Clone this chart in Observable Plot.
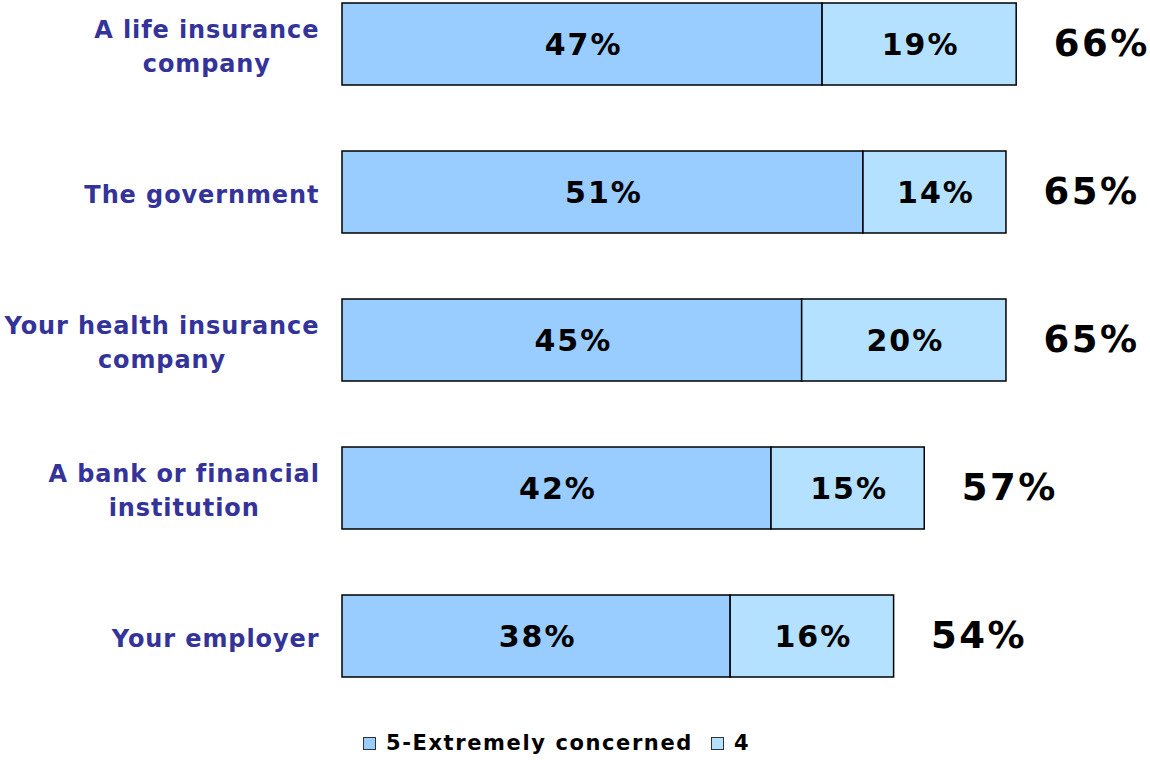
<!DOCTYPE html>
<html>
<head>
<meta charset="utf-8">
<script src="https://cdn.jsdelivr.net/npm/d3@7"></script>
<script src="https://cdn.jsdelivr.net/npm/@observablehq/plot@0.6"></script>
<style>
  html, body { margin: 0; padding: 0; background: #fff; }
  #wrap { position: relative; width: 1150px; height: 760px; }
  #legend { position: absolute; top: 732px; left: 363px; height: 22px; display: flex; align-items: center;
    font-family: "DejaVu Sans", Verdana, sans-serif; font-weight: bold; font-size: 21px; letter-spacing: 1.6px; color: #000; }
  .sw { width: 11px; height: 11px; border: 1.5px solid #333; display: inline-block; margin-right: 10px; }
  .item { display: flex; align-items: center; }
</style>
</head>
<body>
<div id="wrap">
  <div id="chart"></div>
  <div id="legend"></div>
</div>
<script>
const categories = ["A life insurance company", "The government", "Your health insurance company", "A bank or financial institution", "Your employer"];
const categoryLines = [["A life insurance", "company"], ["The government"], ["Your health insurance", "company"], ["A bank or financial", "institution"], ["Your employer"]];
const extremelyConcerned = [47, 51, 45, 42, 38];
const fourRating = [19, 14, 20, 15, 16];
const totals = [66, 65, 65, 57, 54];
const seriesNames = ["5-Extremely concerned", "4"];
const seriesColors = ["#99CCFF", "#B3E1FF"];

const rows = [];
categories.forEach((c, i) => {
  rows.push({category: c, series: seriesNames[0], value: extremelyConcerned[i]});
  rows.push({category: c, series: seriesNames[1], value: fourRating[i]});
});
const totalRows = categories.map((c, i) => ({category: c, total: totals[i]}));

// measure label widths so each multi-line label is centered and right-aligned as a block
const catLS = 0.9;
const ctx = document.createElement("canvas").getContext("2d");
ctx.font = "bold 24px 'DejaVu Sans'";
const measure = s => ctx.measureText(s).width + catLS * (s.length - 1);

const labelMarks = categories.map((c, i) => {
  const w = Math.max(...categoryLines[i].map(measure));
  return Plot.text([c], {
    y: d => d,
    frameAnchor: "left",
    text: () => categoryLines[i].join("\n"),
    textAnchor: "middle",
    dx: -(24 + w / 2) + catLS / 2,
    lineHeight: 1.42,
    fontSize: 24,
    fontWeight: "bold",
    fontFamily: "DejaVu Sans",
    fill: "#333399",
    ariaLabel: () => "category-label"
  });
});

const chart = Plot.plot({
  width: 1150,
  height: 678,
  marginLeft: 342,
  marginRight: 0,
  marginTop: 2,
  marginBottom: 1,
  x: {domain: [0, 79.1], axis: null},
  y: {domain: categories, axis: null, paddingInner: 0.447, paddingOuter: 0},
  color: {domain: seriesNames, range: seriesColors},
  style: {fontFamily: "'DejaVu Sans', sans-serif", background: "#fff"},
  marks: [
    Plot.barX(rows, Plot.stackX({x: "value", y: "category", fill: "series", stroke: "#000", strokeWidth: 1.5})),
    Plot.text(rows, Plot.stackX({x: "value", y: "category", z: "series", text: d => d.value + "%",
      fontSize: 30, fontWeight: "bold", fill: "#000", dx: 1, dy: 1, ariaLabel: () => "inner-label"})),
    Plot.text(totalRows, {x: "total", y: "category", text: d => d.total + "%", textAnchor: "start", dx: 37,
      fontSize: 37, fontWeight: "bold", fill: "#000", ariaLabel: () => "total-label"}),
    ...labelMarks
  ]
});
d3.select(chart).selectAll('[aria-label="inner-label"]').style("letter-spacing", "2px");
d3.select(chart).selectAll('[aria-label="total-label"]').style("letter-spacing", "2.5px");
d3.select(chart).selectAll('[aria-label="category-label"]').style("letter-spacing", catLS + "px");
document.getElementById("chart").appendChild(chart);

const legend = document.getElementById("legend");
seriesNames.forEach((name, i) => {
  const item = document.createElement("div");
  item.className = "item";
  if (i > 0) item.style.marginLeft = "18px";
  const sw = document.createElement("span");
  sw.className = "sw";
  sw.style.background = seriesColors[i];
  const t = document.createElement("span");
  t.textContent = name;
  item.appendChild(sw);
  item.appendChild(t);
  legend.appendChild(item);
});
</script>
</body>
</html>
